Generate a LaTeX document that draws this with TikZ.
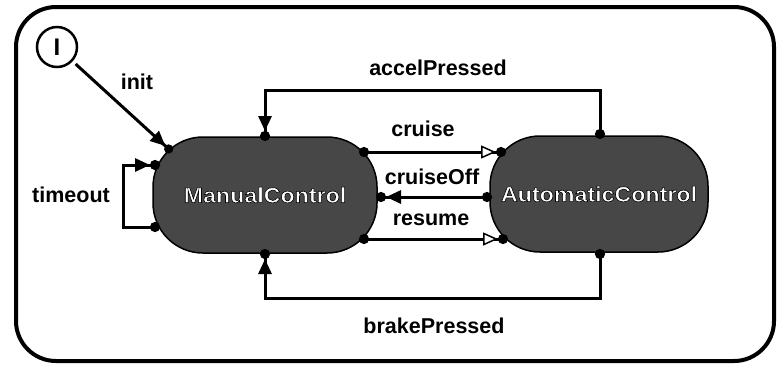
\documentclass[tikz,border=0pt]{standalone}
\usepackage{fontspec}
\setmainfont{Liberation Sans}
\newfontfamily\widefont[FakeStretch=1.08]{Liberation Sans}
\newcommand{\outlined}[1]{\special{pdf:literal direct 2 Tr 0 0 0 RG 0.6 w}#1\special{pdf:literal direct 0 Tr}}
\usetikzlibrary{arrows.meta}
\begin{document}
\begin{tikzpicture}[x=1pt,y=-1pt,
  lbl/.style={font=\fontsize{21.5}{24}\selectfont\bfseries, inner sep=0pt},
  state/.style={draw=black, line width=1.5pt, fill=black!72, rounded corners=50pt,
    minimum height=116pt, inner sep=0pt, text=white,
    font=\widefont\fontsize{21.5}{24}\selectfont\bfseries},
  edge/.style={line width=3pt},
  initarr/.style={-{Triangle[length=15pt,width=13pt]Circle[length=9pt]}},
  farr/.style={{Circle[length=10pt]}-{Triangle[length=15pt,width=13pt]Circle[length=10pt]}},
  oarr/.style={{Circle[length=10pt]}-{Triangle[open,fill=white,line width=1.5pt,length=15pt,width=13pt]Circle[length=10pt]}}
]
\useasboundingbox (0,0) rectangle (778,368);
% outer frame
\draw[line width=4pt, rounded corners=40pt] (16,7) rectangle (774,361);
% initial state
\node[draw, circle, line width=2.5pt, minimum size=40pt, inner sep=0pt,
  font=\fontsize{24}{26}\selectfont\bfseries] (I) at (57,47) {I};
% states
\node[state, minimum width=224pt] (M) at (265,195) {\outlined{ManualControl}};
\node[state, minimum width=218pt] (A) at (599,194) {\outlined{AutomaticControl}};
% ports
\coordinate (mI) at (172,152);
\coordinate (mT) at (265,141);
\coordinate (mB) at (265,249);
\coordinate (mL1) at (160,165);
\coordinate (mL2) at (160,227);
\coordinate (mR1) at (359,152);
\coordinate (mR2) at (376,197);
\coordinate (mR3) at (359,239);
\coordinate (aT) at (600,139);
\coordinate (aB) at (600,249);
\coordinate (aL1) at (506,152);
\coordinate (aL2) at (492,197);
\coordinate (aL3) at (508,239);
% transitions
\draw[edge, initarr, shorten <=4pt] (I) -- (mI);
\draw[edge, farr] (aT) -- ++(0,-49) -| (mT);
\draw[edge, farr] (aB) -- ++(0,49) -| (mB);
\draw[edge, farr] (mL2) -- ++(-37,0) |- (mL1);
\draw[edge, oarr] (mR1) -- (aL1);
\draw[edge, farr] (aL2) -- (mR2);
\draw[edge, oarr] (mR3) -- (aL3);
% labels
\node[lbl] (lInit) at (137,82) {init};
\node[lbl] (lAccel) at (438,68) {accelPressed};
\node[lbl] (lBrake) at (434,326) {brakePressed};
\node[lbl] (lTime) at (71,195) {timeout};
\node[lbl] (lCruise) at (423,129) {cruise};
\node[lbl] (lOff) at (432,177) {cruiseOff};
\node[lbl] (lRes) at (431,220) {resume};
\end{tikzpicture}
\end{document}
